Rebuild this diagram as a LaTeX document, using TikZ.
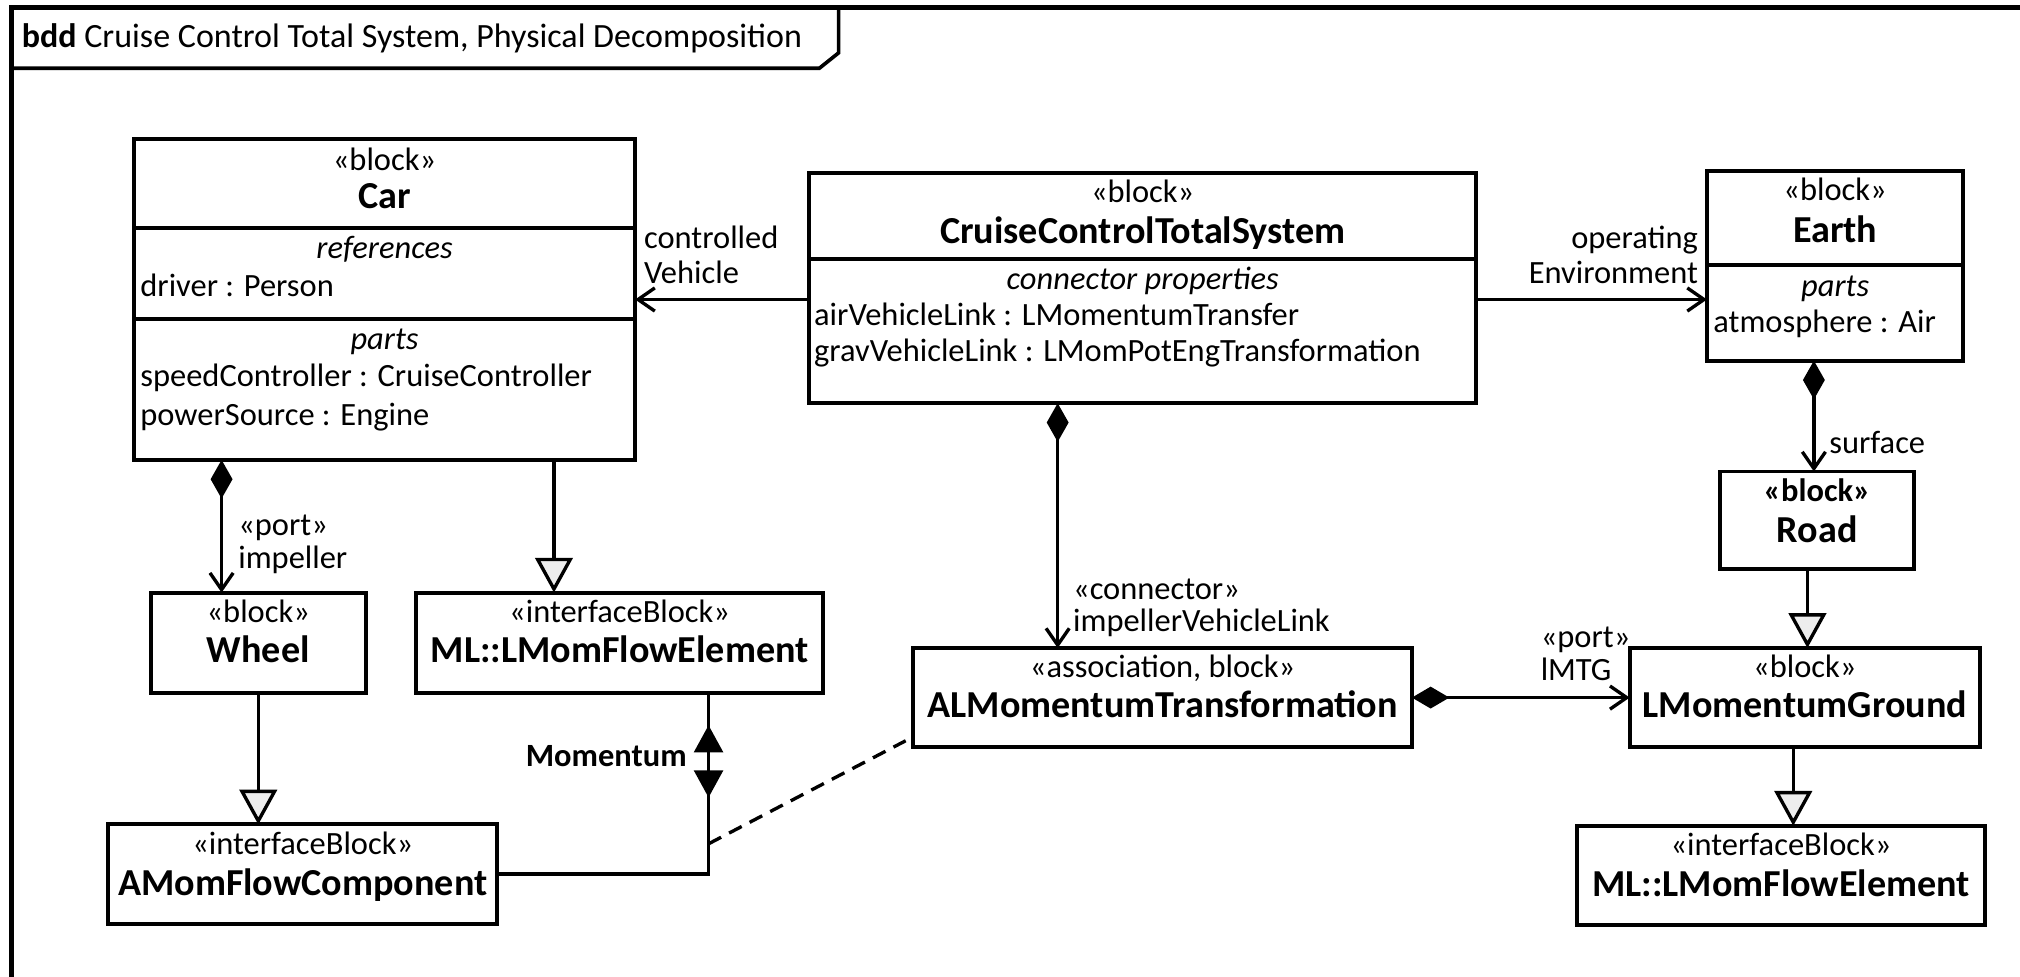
\documentclass[tikz,border=0pt]{standalone}
\usepackage{fontspec}
\setmainfont{Carlito}
\usetikzlibrary{arrows.meta,calc}
\newcommand\blk[5]{\node[box,minimum width={(#4-#2)*0.5pt},minimum height={(#5-#3)*0.5pt}] (#1) at ({(#2+#4)/2},{(#3+#5)/2}) {};}
\begin{document}
\begin{tikzpicture}[x=0.5pt,y=-0.5pt,
  box/.style={draw, line width=1.55pt, inner sep=0pt, outer sep=0pt, rectangle},
  txt/.style={inner sep=0pt, outer sep=0pt, font=\fontsize{12.6}{15}\selectfont},
  nm/.style={inner sep=0pt, outer sep=0pt, font=\fontsize{14.8}{17}\selectfont\bfseries},
  it/.style={txt, font=\fontsize{12.6}{15}\selectfont\itshape},
  ln/.style={line width=1.3pt},
  dv/.style={line width=1.55pt},
  nav/.style={ln, -{Straight Barb[length=6.5pt,width=9pt]}},
  comp/.style={ln, {Diamond[length=15pt,width=8.5pt]}-{Straight Barb[length=6.5pt,width=9pt]}},
  gen/.style={ln, -{Triangle[length=13.5pt,width=14.5pt,fill=black!7]}},
]
\useasboundingbox (0,0) rectangle (1568,758);
% frame
\draw[line width=1.8pt] (9,780) -- (9,6) -- (1590,6);
\draw[line width=1.4pt] (9,53) -- (636,53) -- (651,41) -- (651,6);
\node[txt, anchor=base west, font=\fontsize{13.2}{16}\selectfont] (title) at (17,37) {\textbf{bdd} Cruise Control Total System, Physical Decomposition};

% boxes
\blk{car}{104}{108}{493}{357}
\blk{ccts}{628}{134}{1146}{313}
\blk{earth}{1325}{133}{1524}{280}
\blk{road}{1335}{366}{1486}{442}
\blk{wheel}{117}{460}{284}{538}
\blk{mlL}{323}{460}{639}{538}
\blk{amfc}{84}{640}{386}{717}
\blk{almt}{709}{503}{1096}{580}
\blk{lmg}{1265}{503}{1537}{580}
\blk{mlR}{1224}{641}{1541}{718}

% Car
\node[txt, anchor=base] (carS) at (298.5,132) {«block»};
\node[nm, anchor=base] (carN) at (298.5,162) {Car};
\draw[dv] (car.west |- 0,177) -- (car.east |- 0,177);
\node[it, anchor=base] (carR) at (298.5,201) {references};
\node[txt, anchor=base west] (carR1) at (109,230) {driver : Person};
\draw[dv] (car.west |- 0,248) -- (car.east |- 0,248);
\node[it, anchor=base] (carP) at (298.5,271) {parts};
\node[txt, anchor=base west] (carP1) at (109,300) {speedController : CruiseController};
\node[txt, anchor=base west] (carP2) at (109,330) {powerSource : Engine};

% CCTS
\node[txt, anchor=base] (cctsS) at (887,157) {«block»};
\node[nm, anchor=base] (cctsN) at (887,189) {CruiseControlTotalSystem};
\draw[dv] (ccts.west |- 0,201) -- (ccts.east |- 0,201);
\node[it, anchor=base] (cctsC) at (887,225) {connector properties};
\node[txt, anchor=base west] (cctsC1) at (632,253) {airVehicleLink : LMomentumTransfer};
\node[txt, anchor=base west] (cctsC2) at (632,281) {gravVehicleLink : LMomPotEngTransformation};

% Earth
\node[txt, anchor=base] (earthS) at (1424.5,156) {«block»};
\node[nm, anchor=base] (earthN) at (1424.5,188) {Earth};
\draw[dv] (earth.west |- 0,206) -- (earth.east |- 0,206);
\node[it, anchor=base] (earthP) at (1424.5,230) {parts};
\node[txt, anchor=base west] (earthP1) at (1330,258) {atmosphere : Air};

% Road
\node[txt, anchor=base] (roadS) at (1410.5,389) {\textbf{«block»}};
\node[nm, anchor=base] (roadN) at (1410.5,421) {Road};

% Wheel
\node[txt, anchor=base] (wheelS) at (200.5,483) {«block»};
\node[nm, anchor=base] (wheelN) at (200.5,514) {Wheel};

% ML left
\node[txt, anchor=base] (mlLS) at (481,483) {«interfaceBlock»};
\node[nm, anchor=base] (mlLN) at (481,514) {ML::LMomFlowElement};

% AMFC
\node[txt, anchor=base] (amfcS) at (235,663) {«interfaceBlock»};
\node[nm, anchor=base] (amfcN) at (235,695) {AMomFlowComponent};

% ALMT
\node[txt, anchor=base] (almtS) at (902.5,526) {«association, block»};
\node[nm, anchor=base] (almtN) at (902.5,557) {ALMomentumTransformation};

% LMG
\node[txt, anchor=base] (lmgS) at (1401,526) {«block»};
\node[nm, anchor=base] (lmgN) at (1401,557) {LMomentumGround};

% ML right
\node[txt, anchor=base] (mlRS) at (1382.5,664) {«interfaceBlock»};
\node[nm, anchor=base] (mlRN) at (1382.5,696) {ML::LMomFlowElement};

% connectors
\draw[nav] (ccts.west |- car.east) -- (car.east);
\node[txt, anchor=base west] (l1a) at (500,193) {controlled};
\node[txt, anchor=base west] (l1b) at (500,220) {Vehicle};

\draw[nav] (ccts.east |- car.east) -- (earth.west |- car.east);
\node[txt, anchor=base east] (l2a) at (1318,193) {operating};
\node[txt, anchor=base east] (l2b) at (1318,220) {Environment};

\draw[comp] (ccts.south -| 821,0) -- (almt.north -| 821,0);
\node[txt, anchor=base west] (l3a) at (833,465) {«connector»};
\node[txt, anchor=base west] (l3b) at (833,490) {impellerVehicleLink};

\draw[comp] (car.south -| 172,0) -- (wheel.north -| 172,0);
\node[txt, anchor=base west] (l4a) at (185,416) {«port»};
\node[txt, anchor=base west] (l4b) at (185,441) {impeller};

\draw[gen] (car.south -| 430,0) -- (mlL.north -| 430,0);
\draw[gen] (wheel.south) -- (amfc.north -| wheel.south);

\draw[ln] (amfc.east) -| (mlL.south -| 550,0);
\fill (550,563) -- (561.5,584) -- (538.5,584) -- cycle;
\fill (550,619) -- (561.5,598) -- (538.5,598) -- cycle;
\node[txt, anchor=base east, font=\fontsize{12.6}{15}\selectfont\bfseries] (mom) at (533,595) {Momentum};

\coordinate (dj) at (550,655);
\draw[ln, dash pattern=on 5.5pt off 3.5pt] (dj) -- ($(almt.south west)+(-6,-5)$);

\draw[ln, {Diamond[length=14.5pt,width=8.5pt]}-{Straight Barb[length=6.5pt,width=9pt]}] (almt.east) -- (lmg.west);
\node[txt, anchor=base west] (l5a) at (1196,503) {«port»};
\node[txt, anchor=base west] (l5b) at (1196,528) {lMTG};

\draw[comp] (earth.south -| 1408,0) -- (road.north -| 1408,0);
\node[txt, anchor=base west] (l6) at (1420,352) {surface};

\draw[gen] (road.south -| 1403,0) -- (lmg.north -| 1403,0);
\draw[gen] (lmg.south -| 1392,0) -- (mlR.north -| 1392,0);
\end{tikzpicture}
\end{document}
